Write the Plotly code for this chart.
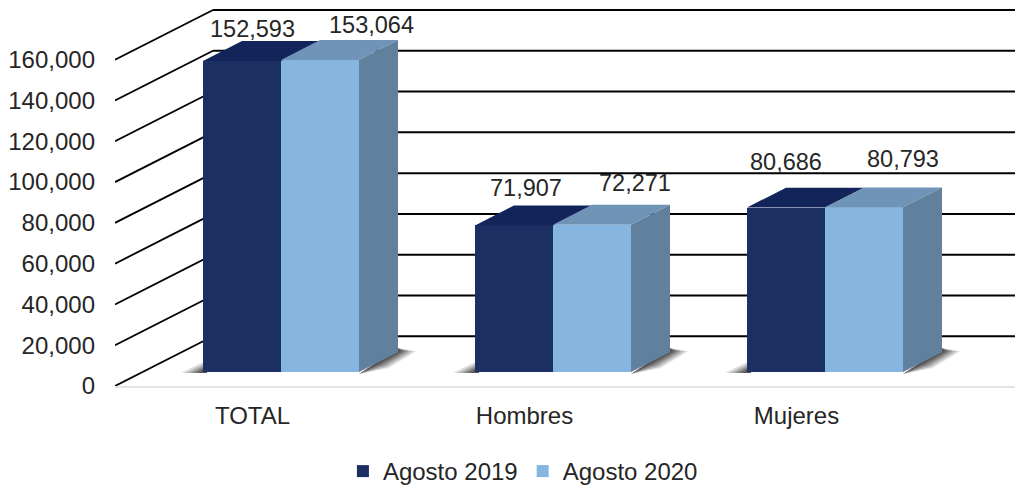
import plotly.graph_objects as go

# ---- data ----
categories = ["TOTAL", "Hombres", "Mujeres"]
series_names = ["Agosto 2019", "Agosto 2020"]
agosto_2019 = [152593, 71907, 80686]
agosto_2020 = [153064, 72271, 80793]
y_ticks = [0, 20000, 40000, 60000, 80000, 100000, 120000, 140000, 160000]

# ---- style / geometry ----
PAGE = 8                  # default page margin around the figure
W, H = 1023 - PAGE, 486
M_L, M_B = 115 - PAGE, 106
ORIGIN_X = 252.5          # page px of the first category on the front axis
UNIT_X = 272.0            # px per category
UNIT_Y = 2.05 / 1000.0    # px per value
X0 = (M_L + PAGE - ORIGIN_X) / UNIT_X
X1 = (W + PAGE - ORIGIN_X) / UNIT_X
Y1 = (H - M_B) / UNIT_Y
px = lambda p: p / UNIT_X
py = lambda p: p / UNIT_Y

BAR_W = px(78)
FLOOR_DX, FLOOR_DY = px(28.5), py(14)   # bar plane offset from front axis
BAR_DX, BAR_DY = px(39), py(20)         # bar depth
WALL_DX, WALL_DY = px(98), py(50)       # back wall offset

DARK, DARK_TOP = "#1c2f62", "#13245a"
LIGHT, LIGHT_TOP, LIGHT_SIDE = "#86b6e0", "#7094b8", "#61809d"
FONT = "Liberation Sans, Arial, sans-serif"
TXT = "#262626"

# label offsets (px) from the front top centre of each bar
off_2019 = [(10, 32), (12, 37), (0, 46)]
off_2020 = [(51, 35), (43, 42), (39, 48)]

fig = go.Figure()
shapes = []

# walls: diagonal + horizontal gridlines
for v in y_ticks:
    shapes.append(dict(type="line", layer="below", x0=X0, y0=v, x1=X0 + WALL_DX, y1=v + WALL_DY,
                       line=dict(color="#000000", width=1.8)))
    shapes.append(dict(type="line", layer="below", x0=X0 + WALL_DX, y0=v + WALL_DY, x1=X1, y1=v + WALL_DY,
                       line=dict(color="#000000", width=2)))

# soft floor shadows
for i in range(len(categories)):
    xl = i + FLOOR_DX - BAR_W
    xr = i + FLOOR_DX + BAR_W
    b = FLOOR_DY
    for grow, alpha in [(1.0, 0.14), (0.8, 0.18), (0.6, 0.22), (0.4, 0.28), (0.2, 0.3)]:
        left = [(xl - px(22 * grow), b - py(1)), (xl + px(4), b - py(1)), (xl + px(4), b + py(12 * grow)),
                (xl - px(2 * grow), b + py(9 * grow))]
        right = [(xr, b - py(2)), (xr + BAR_DX * 0.5 + px(10 * grow), b + BAR_DY * 0.5 - py(6 * grow)),
                 (xr + BAR_DX + px(18 * grow), b + BAR_DY + py(1)), (xr + BAR_DX, b + BAR_DY + py(4))]
        for poly_pts in (left, right):
            path = "M " + " L ".join(f"{x},{y}" for x, y in poly_pts) + " Z"
            shapes.append(dict(type="path", layer="below", path=path, line=dict(width=0),
                               fillcolor=f"rgba(20,20,20,{alpha})"))

# front faces
fig.add_trace(go.Bar(name=series_names[0], x=[i + FLOOR_DX - BAR_W / 2 for i in range(3)], y=agosto_2019,
                     base=FLOOR_DY, width=BAR_W, marker=dict(color=DARK, line=dict(width=0)),
                     hoverinfo="skip"))
fig.add_trace(go.Bar(name=series_names[1], x=[i + FLOOR_DX + BAR_W / 2 for i in range(3)], y=agosto_2020,
                     base=FLOOR_DY, width=BAR_W, marker=dict(color=LIGHT, line=dict(width=0)),
                     hoverinfo="skip"))


def poly(xs, ys, color):
    fig.add_trace(go.Scatter(x=xs, y=ys, mode="lines", fill="toself", fillcolor=color,
                             line=dict(width=0), showlegend=False, hoverinfo="skip"))


# top and side faces
for i in range(3):
    xm = i + FLOOR_DX
    t0 = agosto_2019[i] + FLOOR_DY
    t1 = agosto_2020[i] + FLOOR_DY
    poly([xm - BAR_W, xm, xm + BAR_DX, xm - BAR_W + BAR_DX, xm - BAR_W],
         [t0, t0, t0 + BAR_DY, t0 + BAR_DY, t0], DARK_TOP)
    poly([xm, xm + BAR_W, xm + BAR_W + BAR_DX, xm + BAR_DX, xm],
         [t1, t1, t1 + BAR_DY, t1 + BAR_DY, t1], LIGHT_TOP)
    xr = xm + BAR_W
    poly([xr, xr + BAR_DX, xr + BAR_DX, xr, xr],
         [FLOOR_DY, FLOOR_DY + BAR_DY, t1 + BAR_DY, t1, FLOOR_DY], LIGHT_SIDE)

# value labels
annotations = []
for i in range(3):
    for vals, sign, offs in ((agosto_2019, -1, off_2019), (agosto_2020, 1, off_2020)):
        annotations.append(dict(x=i + FLOOR_DX + sign * BAR_W / 2, y=vals[i] + FLOOR_DY,
                                text=f"{vals[i]:,}", showarrow=False, xanchor="center", yanchor="middle",
                                xshift=offs[i][0], yshift=offs[i][1],
                                font=dict(family=FONT, size=23.5, color=TXT)))

fig.update_layout(
    width=W, height=H, autosize=False,
    margin=dict(l=M_L, r=0, t=0, b=M_B, pad=0),
    paper_bgcolor="#ffffff", plot_bgcolor="rgba(0,0,0,0)",
    barmode="overlay", bargap=0,
    shapes=shapes, annotations=annotations,
    font=dict(family=FONT, size=24, color=TXT),
    xaxis=dict(range=[X0, X1], tickmode="array", tickvals=[0, 1, 2], ticktext=categories,
               tickfont=dict(family=FONT, size=24, color=TXT),
               showgrid=False, zeroline=False, showline=True, linecolor="#e4e4e4", linewidth=2,
               ticks="", ticklabelstandoff=7, fixedrange=True),
    yaxis=dict(range=[0, Y1], tickmode="array", tickvals=y_ticks, tickformat=",d",
               tickfont=dict(family=FONT, size=24, color=TXT),
               showgrid=False, zeroline=False, showline=False,
               ticks="", ticklabelstandoff=19, fixedrange=True),
    legend=dict(orientation="h", x=0.251, xref="paper", xanchor="left", y=-0.227, yanchor="middle",
                font=dict(family=FONT, size=24, color=TXT), bgcolor="rgba(0,0,0,0)",
                traceorder="normal", itemclick=False, itemdoubleclick=False),
)
fig.write_html("out.html")
